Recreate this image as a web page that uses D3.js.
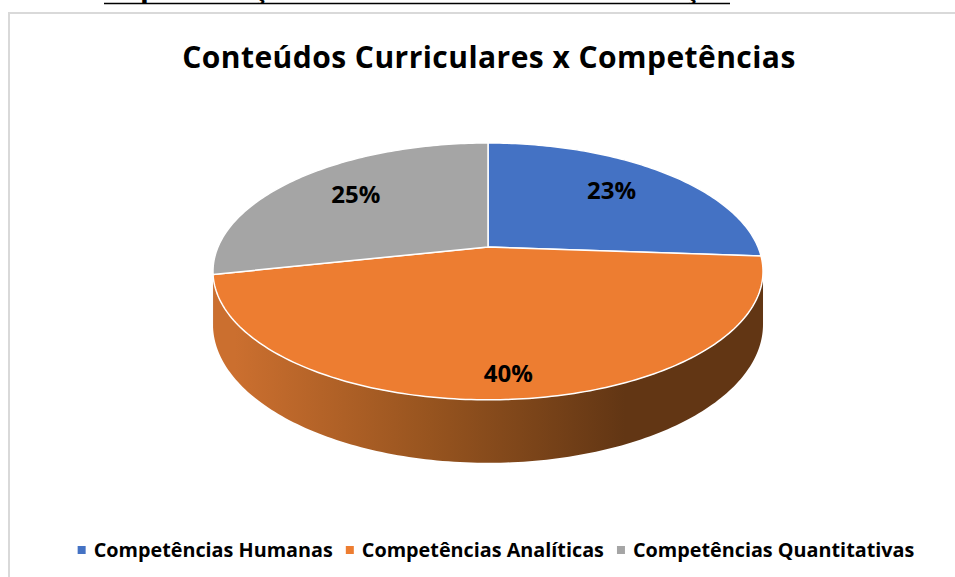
<!DOCTYPE html>
<html>
<head>
<meta charset="utf-8">
<script src="https://cdn.jsdelivr.net/npm/d3@7"></script>
<style>
  html, body { margin: 0; padding: 0; background: #fff; }
  svg { display: block; }
</style>
</head>
<body>
<div id="chart"></div>
<script>
// Pie 3D - Conteúdos Curriculares x Competências
const categories = ["Competências Humanas", "Competências Analíticas", "Competências Quantitativas"];
const values = [23, 40, 25];
const labels = ["23%", "40%", "25%"];
const colors = ["#4472C4", "#ED7D31", "#A5A5A5"];

const width = 955, height = 577;
const font = "Open Sans";

const svg = d3.select("#chart").append("svg")
  .attr("width", width)
  .attr("height", height);

// cropped heading of the page above the chart
svg.append("text")
  .attr("x", 22).attr("y", -1)
  .attr("font-family", "Liberation Serif").attr("font-weight", "bold")
  .attr("font-size", 22).attr("fill", "#000")
  .text("43.");
svg.append("text")
  .attr("x", 104).attr("y", -1)
  .attr("font-family", "Liberation Serif").attr("font-weight", "bold")
  .attr("font-size", 22).attr("fill", "#000")
  .attr("textLength", 626).attr("lengthAdjust", "spacingAndGlyphs")
  .text("Representação Gráfica da Matriz de Formação");
svg.append("line")
  .attr("x1", 104).attr("x2", 730).attr("y1", 3.5).attr("y2", 3.5)
  .attr("stroke", "#000").attr("stroke-width", 1.5);

// chart area border
svg.append("rect")
  .attr("x", 9).attr("y", 13)
  .attr("width", 960).attr("height", 580)
  .attr("fill", "#fff")
  .attr("stroke", "#d9d9d9").attr("stroke-width", 2);

svg.append("text")
  .attr("x", 489).attr("y", 68)
  .attr("text-anchor", "middle")
  .attr("font-family", font).attr("font-weight", "bold")
  .attr("font-size", 30).attr("fill", "#000")
  .attr("letter-spacing", 0.45)
  .text("Conteúdos Curriculares x Competências");

// perspective projection of the pie disc
const cx = 488, cy = 247;
const A = 270, B = 123.8, P = 0.19, H = 51;

function proj(a, r, dz) {
  const u = r * Math.sin(a), v = -r * Math.cos(a);
  const w = 1 - P * v;
  return [cx + A * u / w, cy + B * v / w + (dz || 0) / w];
}

function arcPoints(a0, a1, dz) {
  const n = Math.max(2, Math.ceil((a1 - a0) / (Math.PI / 180)));
  return d3.range(n + 1).map(i => proj(a0 + (a1 - a0) * i / n, 1, dz));
}

const pie = d3.pie().sort(null).value(d => d);
const arcs = pie(values);
const line = d3.line();

const defs = svg.append("defs");
const grad = defs.append("linearGradient")
  .attr("id", "side-grad")
  .attr("gradientUnits", "userSpaceOnUse")
  .attr("x1", 235).attr("x2", 625).attr("y1", 0).attr("y2", 0);
grad.append("stop").attr("offset", "0%").attr("stop-color", "#cb6f2f");
grad.append("stop").attr("offset", "50%").attr("stop-color", "#97541f");
grad.append("stop").attr("offset", "100%").attr("stop-color", "#623614");

const g = svg.append("g");

// visible outer wall lies between the two silhouette angles
const s1 = Math.acos(-P), s2 = 2 * Math.PI - Math.acos(-P);
arcs.forEach((d, i) => {
  const a0 = Math.max(d.startAngle, s1), a1 = Math.min(d.endAngle, s2);
  if (a1 <= a0) return;
  const top = arcPoints(a0, a1, 0);
  const bottom = arcPoints(a0, a1, H).reverse();
  g.append("path")
    .attr("d", line(top.concat(bottom)) + "Z")
    .attr("fill", i === 1 ? "url(#side-grad)" : d3.color(colors[i]).darker(1));
});

arcs.forEach((d, i) => {
  const pts = [proj(0, 0, 0)].concat(arcPoints(d.startAngle, d.endAngle, 0));
  g.append("path")
    .attr("d", line(pts) + "Z")
    .attr("fill", colors[i])
    .attr("stroke", "#fff")
    .attr("stroke-width", 1.5)
    .attr("stroke-linejoin", "round");
});

// data labels
arcs.forEach((d, i) => {
  const mid = (d.startAngle + d.endAngle) / 2;
  const vMid = -Math.cos(mid);
  const r = 0.68 + 0.2 * Math.max(0, vMid);
  const [x, y] = proj(mid, r, 0);
  g.append("text")
    .attr("x", x).attr("y", y - 4)
    .attr("dy", "0.35em")
    .attr("text-anchor", "middle")
    .attr("font-family", font).attr("font-weight", "bold")
    .attr("font-size", 24).attr("fill", "#000")
    .text(labels[i]);
});

// legend
const legend = svg.append("g");
const items = legend.selectAll("g").data(categories).enter().append("g");
items.append("rect")
  .attr("width", 8).attr("height", 8)
  .attr("y", -11)
  .attr("fill", (d, i) => colors[i]);
items.append("text")
  .attr("x", 16)
  .attr("font-family", font).attr("font-weight", "bold")
  .attr("font-size", 19.8).attr("fill", "#000")
  .text(d => d);

let xPos = 0;
const gap = 13;
const widths = [];
items.each(function() {
  widths.push(16 + d3.select(this).select("text").node().getComputedTextLength());
});
const total = d3.sum(widths) + gap * (widths.length - 1);
let start = 496 - total / 2;
items.attr("transform", (d, i) => {
  const t = `translate(${start + xPos},557)`;
  xPos += widths[i] + gap;
  return t;
});
</script>
</body>
</html>
